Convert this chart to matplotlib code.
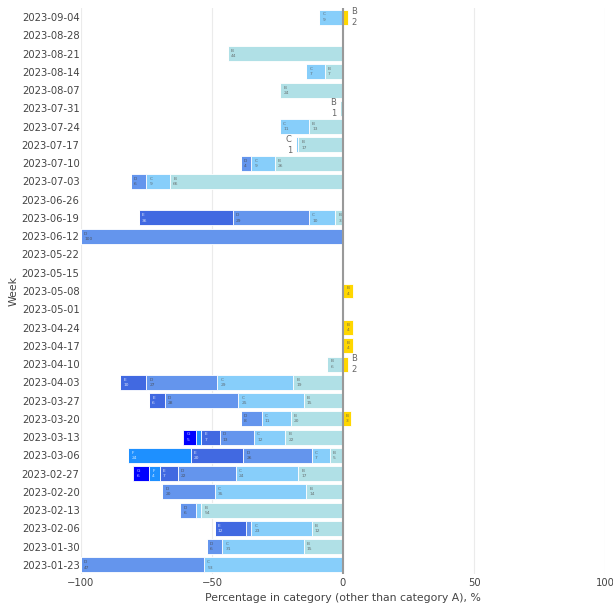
import matplotlib.pyplot as plt
import numpy as np

weeks = ["2023-01-23", "2023-01-30", "2023-02-06", "2023-02-13", "2023-02-20",
         "2023-02-27", "2023-03-06", "2023-03-13", "2023-03-20", "2023-03-27",
         "2023-04-03", "2023-04-10", "2023-04-17", "2023-04-24", "2023-05-01",
         "2023-05-08", "2023-05-15", "2023-05-22", "2023-06-12", "2023-06-19",
         "2023-06-26", "2023-07-03", "2023-07-10", "2023-07-17", "2023-07-24",
         "2023-07-31", "2023-08-07", "2023-08-14", "2023-08-21", "2023-08-28",
         "2023-09-04"]

# share per category, drawn to the left (negative)
cat_B = [0, 15, 12, 54, 14, 17, 5, 22, 20, 15, 19, 6, 0, 0, 0, 0, 0, 0, 0, 3,
         0, 66, 26, 17, 13, 1, 24, 7, 44, 0, 0]
cat_C = [53, 31, 23, 2, 35, 24, 7, 12, 11, 25, 29, 0, 0, 0, 0, 0, 0, 0, 0, 10,
         0, 9, 9, 1, 11, 0, 0, 7, 0, 0, 9]
cat_D = [47, 6, 2, 6, 20, 22, 26, 13, 8, 28, 27, 0, 0, 0, 0, 0, 0, 0, 100, 29,
         0, 6, 4, 0, 0, 0, 0, 0, 0, 0, 0]
cat_E = [0, 0, 12, 0, 0, 7, 20, 7, 0, 6, 10, 0, 0, 0, 0, 0, 0, 0, 0, 36,
         0, 0, 0, 0, 0, 0, 0, 0, 0, 0, 0]
cat_F = [0, 0, 0, 0, 0, 4, 24, 2, 0, 0, 0, 0, 0, 0, 0, 0, 0, 0, 0, 0,
         0, 0, 0, 0, 0, 0, 0, 0, 0, 0, 0]
cat_G = [0, 0, 0, 0, 0, 6, 0, 5, 0, 0, 0, 0, 0, 0, 0, 0, 0, 0, 0, 0,
         0, 0, 0, 0, 0, 0, 0, 0, 0, 0, 0]
# category B drawn to the right (positive)
cat_B_pos = [0, 0, 0, 0, 0, 0, 0, 0, 3, 0, 0, 2, 4, 4, 0, 4, 0, 0, 0, 0,
             0, 0, 0, 0, 0, 0, 0, 0, 0, 0, 2]

series = [("B", cat_B, "#B0E0E6", "#555555"),
          ("C", cat_C, "#87CEFA", "#555555"),
          ("D", cat_D, "#6495ED", "#444444"),
          ("E", cat_E, "#4169E1", "white"),
          ("F", cat_F, "#1E90FF", "white"),
          ("G", cat_G, "#0000FF", "white")]

fig = plt.figure(figsize=(6.13, 6.12), dpi=100)
ax = fig.add_axes([0.132, 0.062, 0.855, 0.925])

y = np.arange(len(weeks))
h = 0.82
left = np.zeros(len(weeks))
outer = np.zeros(len(weeks))
for name, vals, col, tcol in series:
    v = np.array(vals, dtype=float)
    outer = np.where(v > 0, -(left + v), outer)
    left += v

left = np.zeros(len(weeks))
for name, vals, col, tcol in series:
    v = np.array(vals, dtype=float)
    ax.barh(y, -v, left=-left, height=h, color=col, edgecolor="white", linewidth=0.6, zorder=2)
    for i in range(len(weeks)):
        if v[i] == 0:
            continue
        end = -(left[i] + v[i])
        if v[i] <= 2 and end == outer[i]:
            ax.text(end - 1.5, y[i], f"{name}\n{vals[i]}", ha="right", va="center",
                    fontsize=6, color="#666666", linespacing=1.3, zorder=3)
        elif v[i] > 2:
            ax.text(end + 1.2, y[i], f"{name}\n{vals[i]}", ha="left", va="center",
                    fontsize=3.2, color=tcol, alpha=0.8, linespacing=1.4, zorder=3)
    left += v

vp = np.array(cat_B_pos, dtype=float)
ax.barh(y, vp, height=h, color="#FFD700", edgecolor="white", linewidth=0.6, zorder=2)
for i in range(len(weeks)):
    if vp[i] == 0:
        continue
    if vp[i] <= 2:
        ax.text(vp[i] + 1.2, y[i], f"B\n{cat_B_pos[i]}", ha="left", va="center",
                fontsize=6, color="#666666", linespacing=1.3, zorder=3)
    else:
        ax.text(vp[i] / 2, y[i], f"B\n{cat_B_pos[i]}", ha="center", va="center",
                fontsize=3.2, color="#555555", alpha=0.8, linespacing=1.4, zorder=3)

ax.set_xlim(-100, 100)
ax.set_ylim(-0.5, len(weeks) - 0.5)
ax.set_yticks(y)
ax.set_yticklabels(weeks)
ax.set_xticks([-100, -50, 0, 50, 100])
ax.set_xticklabels(["\u2212100", "\u221250", "0", "50", "100"])
ax.tick_params(axis="both", length=0, labelsize=7.2, colors="#444444")
ax.tick_params(axis="y", pad=1)
ax.tick_params(axis="x", pad=2.5)
for s in ax.spines.values():
    s.set_visible(False)
ax.grid(axis="x", color="#EBEBEB", linewidth=0.8, zorder=0)
ax.axvline(0, color="#999999", linewidth=1.5, zorder=4)

ax.set_xlabel("Percentage in category (other than category A), %", fontsize=7.8,
              color="#444444", labelpad=4)
ax.set_ylabel("Week", fontsize=7.8, color="#444444", labelpad=2)

fig.savefig("out.png", dpi=100)
